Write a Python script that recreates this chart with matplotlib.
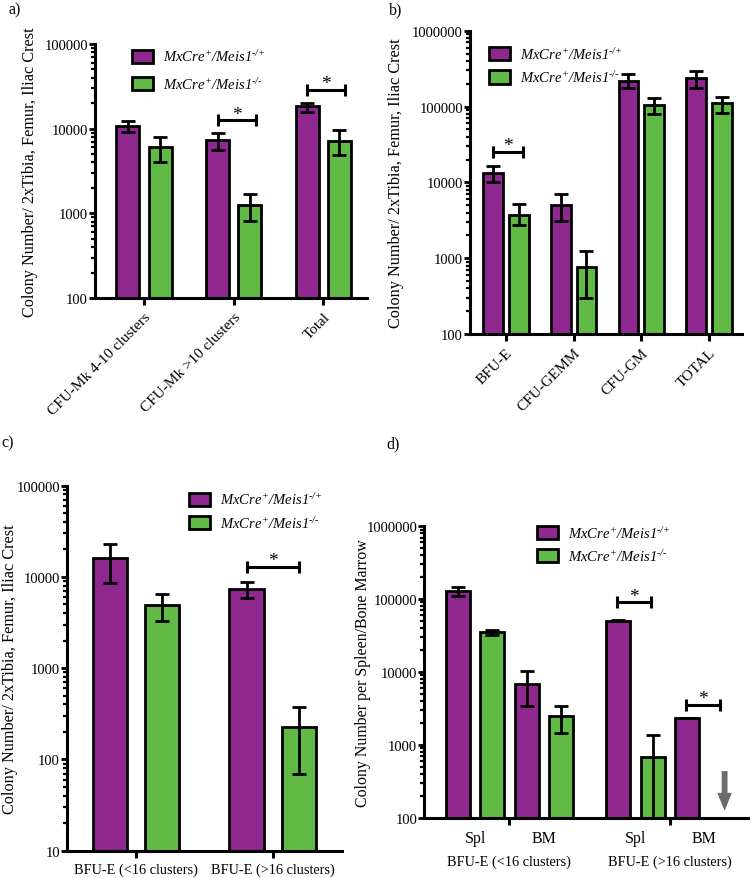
import matplotlib
matplotlib.use('Agg')
import matplotlib.pyplot as plt
from matplotlib.patches import Patch
import numpy as np

plt.rcParams['font.family'] = ['Liberation Serif', 'DejaVu Serif']
# mathtext is only used for the legend labels, which are italic throughout
plt.rcParams['mathtext.fontset'] = 'custom'
plt.rcParams['mathtext.rm'] = 'Liberation Serif:italic'
plt.rcParams['mathtext.it'] = 'Liberation Serif:italic'
plt.rcParams['mathtext.bf'] = 'Liberation Serif:bold'

PURPLE = '#8E278E'
GREEN = '#62BA46'
LBL_HET = r'$MxCre^{+}/Meis1^{\text{-/+}}$'
LBL_KO = r'$MxCre^{+}/Meis1^{\text{-/-}}$'

# ---- panel a: CFU-Mk
a_cats = ['CFU-Mk 4-10 clusters', 'CFU-Mk >10 clusters', 'Total']
a_het = [10900, 7300, 18300]
a_het_lo = [9100, 5600, 15700]
a_het_hi = [12200, 8900, 20300]
a_ko = [6000, 1250, 7200]
a_ko_lo = [4000, 810, 4900]
a_ko_hi = [8000, 1680, 9600]
a_sig = [1, 2]
a_sig_y = [12500, 29000]

# ---- panel b: progenitors
b_cats = ['BFU-E', 'CFU-GEMM', 'CFU-GM', 'TOTAL']
b_het = [13300, 5000, 220000, 236000]
b_het_lo = [10000, 3100, 175000, 178000]
b_het_hi = [16600, 7000, 270000, 293000]
b_ko = [3700, 775, 105000, 111000]
b_ko_lo = [2700, 300, 80000, 83000]
b_ko_hi = [5200, 1230, 130000, 135000]
b_sig = [0]
b_sig_y = [25500]

# ---- panel c: BFU-E by size
c_cats = ['BFU-E (<16 clusters)', 'BFU-E (>16 clusters)']
c_het = [16300, 7330]
c_het_lo = [8600, 5800]
c_het_hi = [23200, 8800]
c_ko = [4980, 226]
c_ko_lo = [3300, 70]
c_ko_hi = [6570, 378]
c_sig = [1]
c_sig_y = [12900]

# ---- panel d: spleen / bone marrow
d_groups = ['BFU-E (<16 clusters)', 'BFU-E (>16 clusters)']
d_tissues = ['Spl', 'BM']
# order: Spl(<16), BM(<16), Spl(>16), BM(>16)
d_het = [130000, 6920, 50400, 2345]
d_het_lo = [111000, 3380, 49500, 2345]
d_het_hi = [145000, 10200, 51400, 2345]
d_ko = [35600, 2470, 692, np.nan]
d_ko_lo = [32100, 1460, 1, np.nan]
d_ko_hi = [37600, 3460, 1370, np.nan]
d_sig_y = [None, None, 90000, 3580]


def style_ax(ax):
    ax.set_yscale('log')
    for s in ['top', 'right']:
        ax.spines[s].set_visible(False)
    for s in ['left', 'bottom']:
        ax.spines[s].set_linewidth(2.2)
    ax.tick_params(axis='y', which='major', length=4, width=2, labelsize=10.5, pad=1)
    ax.tick_params(axis='y', which='minor', length=3, width=1.6)
    ax.tick_params(axis='x', which='major', length=5, width=2.2, labelsize=11)
    ax.yaxis.set_major_formatter(matplotlib.ticker.FuncFormatter(lambda v, p: '%d' % round(v)))
    ax.yaxis.set_minor_formatter(matplotlib.ticker.NullFormatter())


def err(v, lo, hi):
    v = np.array(v, dtype=float)
    return [v - np.array(lo, dtype=float), np.array(hi, dtype=float) - v]


def bars(ax, x, v, lo, hi, color, w):
    ax.bar(x, v, width=w, color=color, edgecolor='black', linewidth=2, zorder=2)
    ax.errorbar(x, v, yerr=err(v, lo, hi), fmt='none', ecolor='black',
                elinewidth=2, capsize=5, capthick=2, zorder=3)


def bracket(ax, x0, x1, y):
    xm = (x0 + x1) / 2
    ax.errorbar([xm], [y], xerr=[(x1 - x0) / 2], fmt='none', ecolor='black',
                elinewidth=2.2, capsize=4.5, capthick=2.2, zorder=4)
    ax.annotate('*', xy=(xm, y), xytext=(0, 1), textcoords='offset points',
                ha='center', va='baseline', fontsize=14)


def add_legend(ax, x, y, spacing):
    h = [Patch(facecolor=PURPLE, edgecolor='black', linewidth=2),
         Patch(facecolor=GREEN, edgecolor='black', linewidth=2)]
    ax.legend(h, [LBL_HET, LBL_KO], loc='upper left', bbox_to_anchor=(x, y),
              frameon=False, fontsize=10.5, handlelength=1.45, handleheight=1.0,
              handletextpad=0.7, labelspacing=spacing, borderpad=0, borderaxespad=0)


fig = plt.figure(figsize=(7.5, 8.79), dpi=100)
YLAB = 'Colony Number/ 2xTibia, Femur, Iliac Crest'

# panel a
ax = fig.add_axes([0.1267, 0.6598, 0.3627, 0.289])
style_ax(ax)
xa = np.arange(len(a_cats))
off, w = 0.179, 0.257
bars(ax, xa - off, a_het, a_het_lo, a_het_hi, PURPLE, w)
bars(ax, xa + off, a_ko, a_ko_lo, a_ko_hi, GREEN, w)
for i, y in zip(a_sig, a_sig_y):
    bracket(ax, i - off, i + off + 0.07, y)
ax.set_ylim(100, 100000)
ax.set_xlim(-0.547, 2.49)
ax.set_xticks(xa)
ax.set_xticklabels(a_cats, rotation=45, ha='right', rotation_mode='anchor')
ax.set_ylabel(YLAB, fontsize=11.7)
ax.yaxis.set_label_coords(-0.21, 0.5)
add_legend(ax, 0.136, 0.983, 0.8)
fig.text(0.011, 0.997, 'a)', fontsize=11.5, va='top')

# panel b
ax = fig.add_axes([0.6267, 0.6189, 0.3627, 0.345])
style_ax(ax)
xb = np.arange(len(b_cats))
off, w = 0.19, 0.29
bars(ax, xb - off, b_het, b_het_lo, b_het_hi, PURPLE, w)
bars(ax, xb + off, b_ko, b_ko_lo, b_ko_hi, GREEN, w)
for i, y in zip(b_sig, b_sig_y):
    bracket(ax, i - off, i + off + 0.07, y)
ax.set_ylim(100, 1000000)
ax.set_xlim(-0.53, 3.49)
ax.set_xticks(xb)
ax.set_xticklabels(b_cats, rotation=45, ha='right', rotation_mode='anchor')
ax.set_ylabel(YLAB, fontsize=11.7)
ax.yaxis.set_label_coords(-0.243, 0.5)
add_legend(ax, 0.07, 0.95, 0.5)
fig.text(0.519, 0.997, 'b)', fontsize=11.5, va='top')

# panel c
ax = fig.add_axes([0.0893, 0.0311, 0.3667, 0.4153])
style_ax(ax)
xc = np.arange(len(c_cats))
off, w = 0.19, 0.255
bars(ax, xc - off, c_het, c_het_lo, c_het_hi, PURPLE, w)
bars(ax, xc + off, c_ko, c_ko_lo, c_ko_hi, GREEN, w)
for i, y in zip(c_sig, c_sig_y):
    bracket(ax, i - off, i + off, y)
ax.set_ylim(10, 100000)
ax.set_xlim(-0.504, 1.504)
ax.set_xticks(xc)
ax.set_xticklabels(c_cats, fontsize=10.3)
ax.set_ylabel(YLAB, fontsize=11.7)
ax.yaxis.set_label_coords(-0.178, 0.5)
add_legend(ax, 0.444, 0.984, 0.5)
fig.text(0.002, 0.505, 'c)', fontsize=11.5, va='top')

# panel d
ax = fig.add_axes([0.5657, 0.0683, 0.4343, 0.3319])
style_ax(ax)
gap = 4.67
xd_het = np.array([0, 2, gap, gap + 2])
xd_ko = xd_het + 1
w = 0.70
bars(ax, xd_het, d_het, d_het_lo, d_het_hi, PURPLE, w)
ko_ok = ~np.isnan(np.array(d_ko, dtype=float))
bars(ax, xd_ko[ko_ok], np.array(d_ko)[ko_ok], np.array(d_ko_lo)[ko_ok],
     np.array(d_ko_hi)[ko_ok], GREEN, w)
for i, y in enumerate(d_sig_y):
    if y is not None:
        bracket(ax, xd_het[i] - 0.03, xd_ko[i] - 0.03, y)
# knockout BM >16 not detected: arrow
ax.annotate('', xy=(xd_ko[3] + 0.1, 125), xytext=(xd_ko[3] + 0.1, 440),
            arrowprops=dict(facecolor='#6B6B6B', edgecolor='none', width=4.2,
                            headwidth=10.5, headlength=13, shrink=0))
ax.set_ylim(100, 1000000)
ax.set_xlim(-0.98, 8.51)
ax.set_xticks([1.5, gap + 1.5])
ax.set_xticklabels([])
for k, g in enumerate(d_groups):
    for j, t in enumerate(d_tissues):
        xm = (xd_het[2 * k + j] + xd_ko[2 * k + j]) / 2
        ax.text(xm, -0.068, t, transform=ax.get_xaxis_transform(), ha='center', va='center', fontsize=11.5)
    ax.text(gap * k + 1.5, -0.147, g, transform=ax.get_xaxis_transform(), ha='center', va='center', fontsize=10.3)
ax.set_ylabel('Colony Number per Spleen/Bone Marrow', fontsize=11.4)
ax.yaxis.set_label_coords(-0.164, 0.5)
add_legend(ax, 0.345, 1.005, 0.5)
fig.text(0.515, 0.504, 'd)', fontsize=11.5, va='top')

fig.savefig('out.png', dpi=100)
